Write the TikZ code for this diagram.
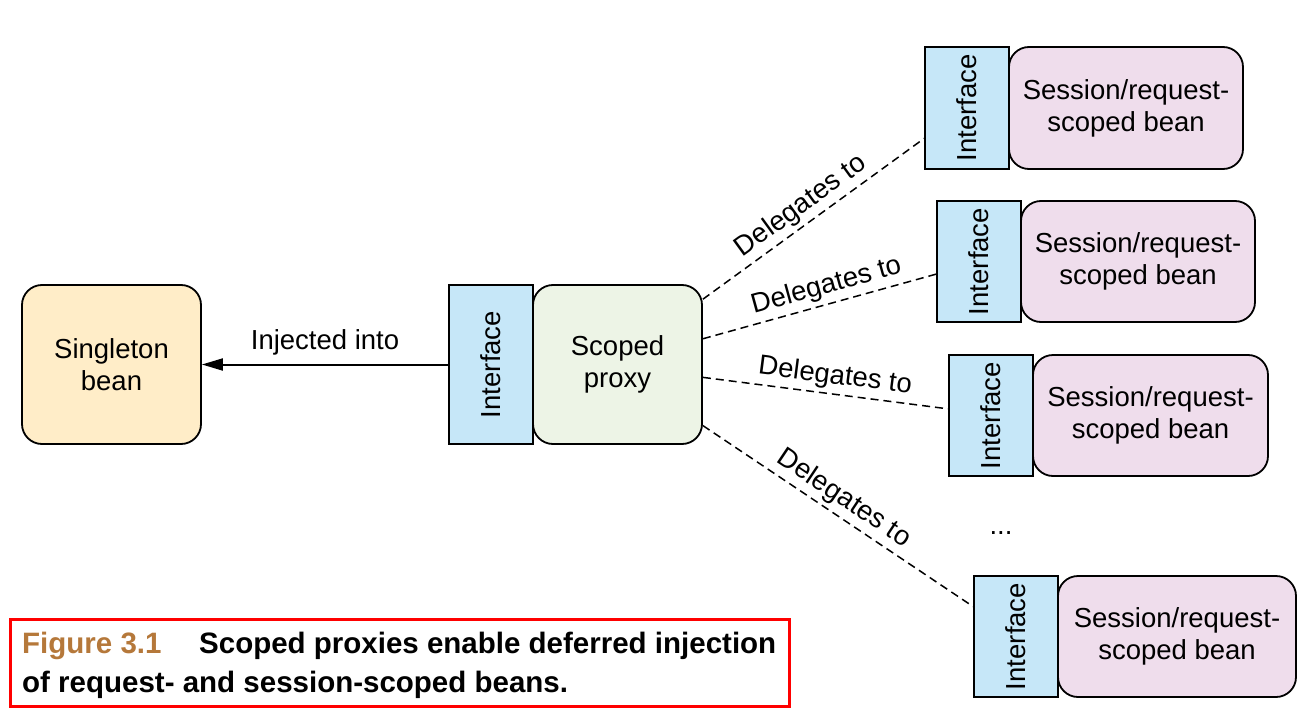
\documentclass[tikz,border=0pt]{standalone}
\usepackage{fontspec}
\setmainfont{Liberation Sans}
\usetikzlibrary{calc,arrows.meta}
\definecolor{singfill}{RGB}{255,237,200}
\definecolor{proxyfill}{RGB}{237,244,230}
\definecolor{ifacefill}{RGB}{198,231,248}
\definecolor{sessfill}{RGB}{239,221,236}
\definecolor{figbrown}{RGB}{181,120,58}
\begin{document}
\begin{tikzpicture}[x=1pt,y=-1pt,
  txt/.style={font=\fontsize{27.5}{32}\selectfont, text=black},
  roundbox/.style={draw=black, line width=1.8pt, rounded corners=20pt, align=center, inner sep=0pt, txt},
  ifacebox/.style={draw=black, line width=1.8pt, fill=ifacefill, minimum width=84pt, inner sep=0pt},
  dashline/.style={draw=black, line width=1.5pt, dash pattern=on 8pt off 5pt},
  dlabel/.style={txt, sloped, above, inner sep=4pt},
  arr/.style={draw=black, line width=2pt, -{Triangle[length=21pt,width=12pt]}},
  capfont/.style={font=\bfseries\fontsize{29.5}{34}\selectfont, inner sep=0pt, anchor=base west}
]
\useasboundingbox (0,0) rectangle (1316,722);

% singleton
\node[roundbox, fill=singfill, minimum width=179pt, minimum height=159pt] (s) at (111.5,364.5) {Singleton\\bean};

% scoped proxy
\node[roundbox, fill=proxyfill, minimum width=169pt, minimum height=159pt] (p) at (617.5,364.5) {Scoped\\proxy};
\node[ifacebox, minimum height=159pt] (pi) at (491,364.5) {};
\node[txt, rotate=90] (pit) at (pi.center) {Interface};

% session beans
\foreach \n/\ix/\cy/\h/\bx/\bw in {1/967/108/122/1126/234, 2/979/261.5/121/1138/234, 3/991/415.5/121/1150.5/235, 4/1016/636.5/121/1177/238}{
  \node[roundbox, fill=sessfill, minimum width=\bw pt, minimum height=\h pt] (b\n) at (\bx,\cy) {Session/request-\\scoped bean};
  \node[ifacebox, minimum height=\h pt] (i\n) at (\ix,\cy) {};
  \node[txt, rotate=90] (it\n) at (i\n.center) {Interface};
}

\node[txt, anchor=base] (dots) at (1001,534) {...};

% injected arrow
\draw[arr] (pi.west) -- node[txt, midway, anchor=base, yshift=15pt] (inj) {Injected into} (s.east);

% delegates
\draw[dashline] ($(p.north east)!0.094!(p.south east)$) -- node[dlabel, pos=0.49] (d1) {Delegates to} ($(i1.north west)!0.746!(i1.south west)$);
\draw[dashline] ($(p.north east)!0.34!(p.south east)$) -- node[dlabel, pos=0.55] (d2) {Delegates to} ($(i2.north west)!0.603!(i2.south west)$);
\draw[dashline] ($(p.north east)!0.58!(p.south east)$) -- node[dlabel, pos=0.53] (d3) {Delegates to} ($(i3.north west)!0.446!(i3.south west)$);
\draw[dashline] ($(p.north east)!0.88!(p.south east)$) -- node[dlabel, pos=0.485] (d4) {Delegates to} ($(i4.north west)!0.256!(i4.south west)$);

% caption
\node[draw=red, line width=3pt, minimum width=779pt, minimum height=87pt, inner sep=0pt] (cap) at (400,662.5) {};
\node[capfont, text=figbrown] (c0) at (22,653) {Figure 3.1};
\node[capfont] (c1) at (199,653) {Scoped proxies enable deferred injection};
\node[capfont] (c2) at (22,692) {of request- and session-scoped beans.};
\end{tikzpicture}
\end{document}
